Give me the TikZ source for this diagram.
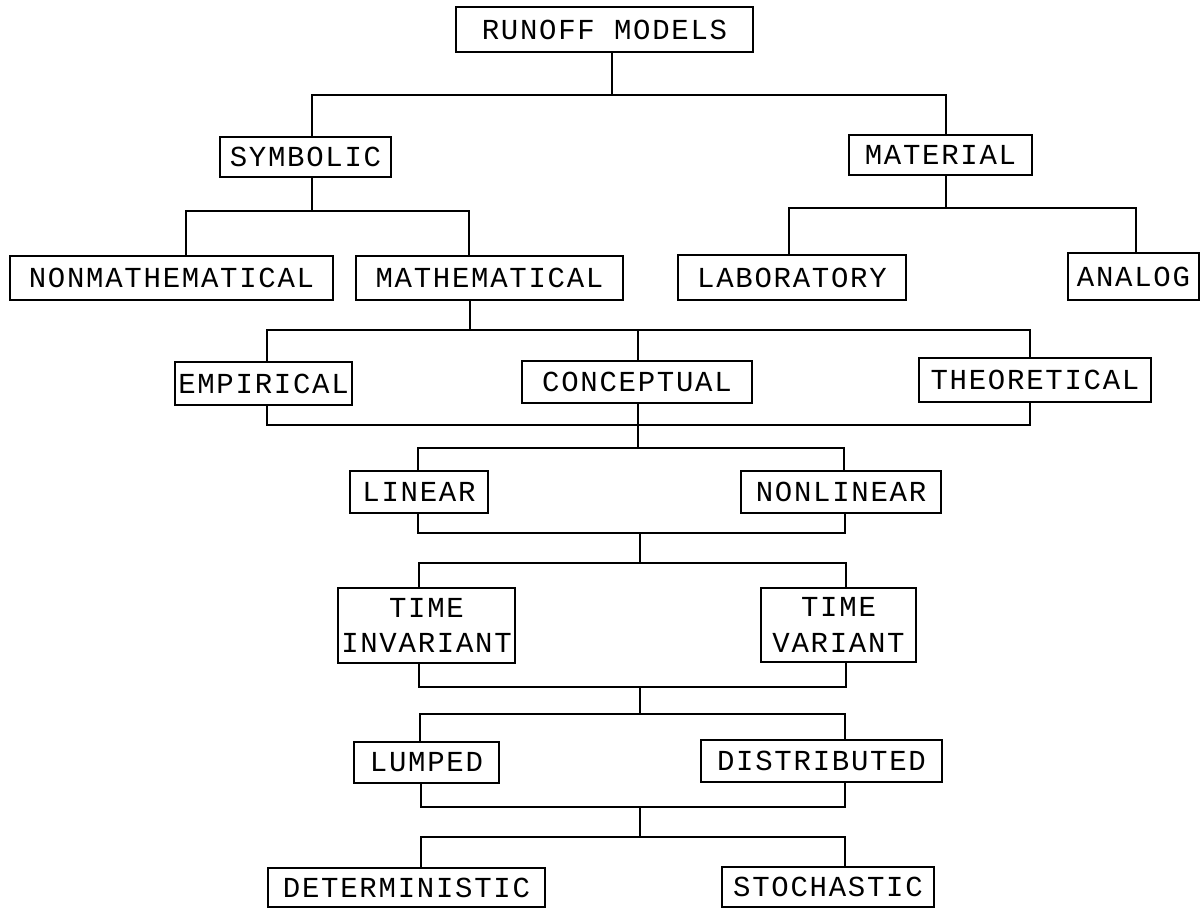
\documentclass[tikz,border=0pt]{standalone}
\usepackage{fontspec}
\newfontfamily\boxfont[LetterSpace=6]{Liberation Mono}
\begin{document}
\begin{tikzpicture}[x=0.02cm, y=-0.02cm,
% common options for the boxes:
box/.style = {draw, line width=1.4pt, align=center, inner sep=0,
            font=\boxfont\fontsize{16.5}{20}\selectfont},
% common options for the lines:
wire/.style = {line width=1.4pt}]
\useasboundingbox (0,0) rectangle (1201,909);
\node[box, minimum width=5.94cm, minimum height=0.90cm] (runoff) at (604.5,29.5) {RUNOFF MODELS};
\node[box, minimum width=3.42cm, minimum height=0.80cm] (symbolic) at (305.5,157) {SYMBOLIC};
\node[box, minimum width=3.66cm, minimum height=0.80cm] (material) at (940.5,155) {MATERIAL};
\node[box, minimum width=6.46cm, minimum height=0.88cm] (nonmath) at (171.5,278) {NONMATHEMATICAL};
\node[box, minimum width=5.34cm, minimum height=0.88cm] (math) at (489.5,278) {MATHEMATICAL};
\node[box, minimum width=4.56cm, minimum height=0.90cm] (laboratory) at (792,277.5) {LABORATORY};
\node[box, minimum width=2.62cm, minimum height=0.94cm] (analog) at (1133.5,276.5) {ANALOG};
\node[box, minimum width=3.54cm, minimum height=0.86cm] (empirical) at (263.5,383.5) {EMPIRICAL};
\node[box, minimum width=4.60cm, minimum height=0.84cm] (conceptual) at (637,382) {CONCEPTUAL};
\node[box, minimum width=4.64cm, minimum height=0.88cm] (theoretical) at (1035,380) {THEORETICAL};
\node[box, minimum width=2.76cm, minimum height=0.84cm] (linear) at (419,492) {LINEAR};
\node[box, minimum width=4.00cm, minimum height=0.84cm] (nonlinear) at (841,492) {NONLINEAR};
\node[box, minimum width=3.54cm, minimum height=1.50cm] (invariant) at (426.5,625.5) {TIME\\INVARIANT};
\node[box, minimum width=3.10cm, minimum height=1.48cm] (variant) at (838.5,625) {TIME\\VARIANT};
\node[box, minimum width=2.90cm, minimum height=0.82cm] (lumped) at (426.5,762.5) {LUMPED};
\node[box, minimum width=4.82cm, minimum height=0.84cm] (distributed) at (821.5,761) {DISTRIBUTED};
\node[box, minimum width=5.54cm, minimum height=0.78cm] (deterministic) at (406.5,887.5) {DETERMINISTIC};
\node[box, minimum width=4.24cm, minimum height=0.80cm] (stochastic) at (828,887) {STOCHASTIC};
% runoff models
\coordinate (r0) at (612,95);
\coordinate (r0l) at (312,95);
\coordinate (r0r) at (946,95);
\draw[wire] (runoff.south -| r0) -- (r0);
\draw[wire] (symbolic.north -| r0l) -- (r0l) -- (r0r) -- (material.north -| r0r);
% symbolic
\coordinate (s0) at (312,211);
\coordinate (s0l) at (186,211);
\coordinate (s0r) at (469,211);
\draw[wire] (symbolic.south -| s0) -- (s0);
\draw[wire] (nonmath.north -| s0l) -- (s0l) -- (s0r) -- (math.north -| s0r);
% material
\coordinate (t0) at (946,208);
\coordinate (t0l) at (789,208);
\coordinate (t0r) at (1136,208);
\draw[wire] (material.south -| t0) -- (t0);
\draw[wire] (laboratory.north -| t0l) -- (t0l) -- (t0r) -- (analog.north -| t0r);
% mathematical
\coordinate (m0) at (470,330);
\coordinate (m0l) at (267,330);
\coordinate (m0c) at (638,330);
\coordinate (m0r) at (1030,330);
\draw[wire] (math.south -| m0) -- (m0);
\draw[wire] (empirical.north -| m0l) -- (m0l) -- (m0r) -- (theoretical.north -| m0r);
\draw[wire] (m0c) -- (conceptual.north -| m0c);
\coordinate (k0l) at (267,425);
\coordinate (k0c) at (638,425);
\coordinate (k0r) at (1030,425);
\draw[wire] (empirical.south -| k0l) -- (k0l) -- (k0r) -- (theoretical.south -| k0r);
% linear / nonlinear
\coordinate (k1) at (638,448);
\coordinate (k1l) at (418,448);
\coordinate (k1r) at (844,448);
\draw[wire] (conceptual.south -| k0c) -- (k1);
\draw[wire] (linear.north -| k1l) -- (k1l) -- (k1r) -- (nonlinear.north -| k1r);
\coordinate (k2l) at (418,533);
\coordinate (k2c) at (640,533);
\coordinate (k2r) at (845,533);
\draw[wire] (linear.south -| k2l) -- (k2l) -- (k2r) -- (nonlinear.south -| k2r);
% time invariant / time variant
\coordinate (k3) at (640,563);
\coordinate (k3l) at (419,563);
\coordinate (k3r) at (846,563);
\draw[wire] (k2c) -- (k3);
\draw[wire] (invariant.north -| k3l) -- (k3l) -- (k3r) -- (variant.north -| k3r);
\coordinate (k4l) at (419,687);
\coordinate (k4c) at (640,687);
\coordinate (k4r) at (846,687);
\draw[wire] (invariant.south -| k4l) -- (k4l) -- (k4r) -- (variant.south -| k4r);
% lumped / distributed
\coordinate (k5) at (640,714);
\coordinate (k5l) at (420,714);
\coordinate (k5r) at (845,714);
\draw[wire] (k4c) -- (k5);
\draw[wire] (lumped.north -| k5l) -- (k5l) -- (k5r) -- (distributed.north -| k5r);
\coordinate (k6l) at (421,807);
\coordinate (k6c) at (640,807);
\coordinate (k6r) at (845,807);
\draw[wire] (lumped.south -| k6l) -- (k6l) -- (k6r) -- (distributed.south -| k6r);
% deterministic / stochastic
\coordinate (k7) at (640,837);
\coordinate (k7l) at (421,837);
\coordinate (k7r) at (845,837);
\draw[wire] (k6c) -- (k7);
\draw[wire] (deterministic.north -| k7l) -- (k7l) -- (k7r) -- (stochastic.north -| k7r);
\end{tikzpicture}
\end{document}
